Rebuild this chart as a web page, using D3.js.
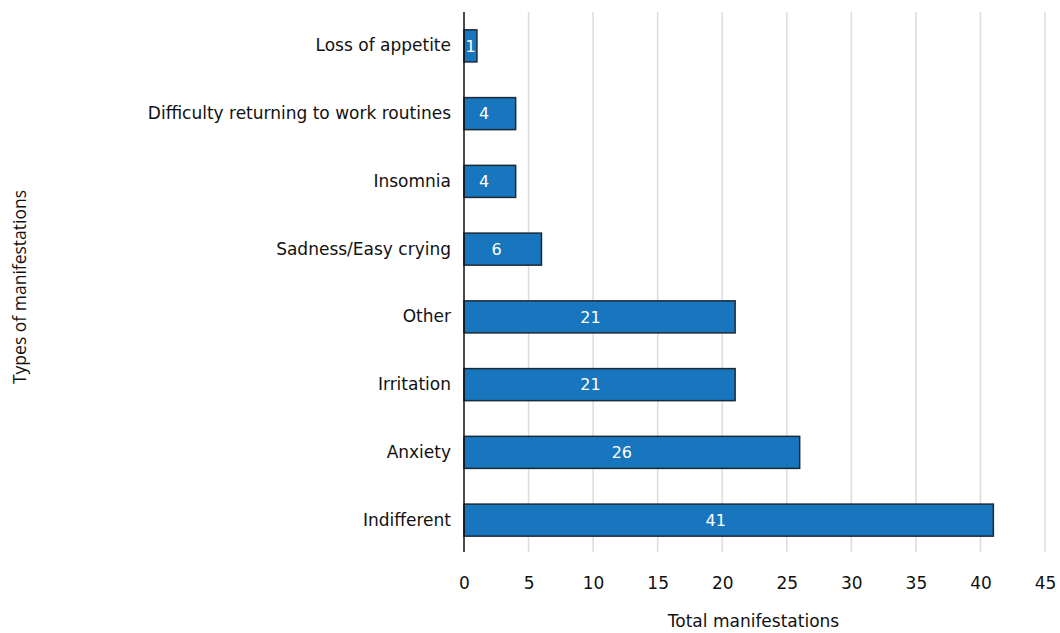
<!DOCTYPE html>
<html>
<head>
<meta charset="utf-8">
<script src="https://cdn.jsdelivr.net/npm/d3@7"></script>
<style>
  body { margin: 0; background: #fff; }
  svg text { font-family: "DejaVu Sans", Verdana, sans-serif; }
</style>
</head>
<body>
<svg id="chart" width="1060" height="633"></svg>
<script>
// data (top to bottom)
const categories = [
    "Loss of appetite",
    "Difficulty returning to work routines",
    "Insomnia",
    "Sadness/Easy crying",
    "Other",
    "Irritation",
    "Anxiety",
    "Indifferent"
];
const totals = [1, 4, 4, 6, 21, 21, 26, 41];
const xTicks = [0, 5, 10, 15, 20, 25, 30, 35, 40, 45];

const rows = categories.map((c, i) => ({ name: c, value: totals[i] }));

const svg = d3.select("#chart");
const plotLeft = 464, plotRight = 1045, plotTop = 12, plotBottom = 554;

const x = d3.scaleLinear().domain([0, 45]).range([plotLeft, plotRight]);
const y = d3.scaleBand()
    .domain(categories)
    .range([plotTop, plotBottom])
    .paddingInner(0.527)
    .paddingOuter(0.2635);

// vertical grid lines
svg.append("g")
    .selectAll("line")
    .data(xTicks.filter(t => t > 0))
    .enter()
    .append("line")
    .attr("x1", d => x(d))
    .attr("x2", d => x(d))
    .attr("y1", plotTop)
    .attr("y2", plotBottom - 2)
    .style("stroke", "#dcdcdc")
    .style("stroke-width", 1.5);

// bars
svg.append("g")
    .selectAll("rect")
    .data(rows)
    .enter()
    .append("rect")
    .attr("x", x(0))
    .attr("y", d => y(d.name))
    .attr("width", d => x(d.value) - x(0))
    .attr("height", y.bandwidth())
    .style("fill", "#1776bd")
    .style("stroke", "#1c2a36")
    .style("stroke-width", 1.5);

// value labels inside bars (sit a little left of the bar centre, like the original)
svg.append("g")
    .selectAll("text")
    .data(rows)
    .enter()
    .append("text")
    .attr("x", d => Math.max(x(d.value * 0.485) - 5, x(0) + 6.5))
    .attr("y", d => y(d.name) + y.bandwidth() / 2)
    .attr("dy", "0.36em")
    .attr("text-anchor", "middle")
    .style("fill", "#fff")
    .style("font-size", "16px")
    .text(d => d.value);

// y axis line
svg.append("line")
    .attr("x1", x(0))
    .attr("x2", x(0))
    .attr("y1", plotTop)
    .attr("y2", plotBottom - 2)
    .style("stroke", "#111")
    .style("stroke-width", 1.5);

// category labels
const yAxis = d3.axisLeft(y).tickSize(0).tickPadding(13);
svg.append("g")
    .attr("transform", `translate(${x(0)},0)`)
    .call(yAxis)
    .call(g => g.select(".domain").remove())
    .selectAll("text")
    .style("font-family", "\"DejaVu Sans\", Verdana, sans-serif")
    .style("font-size", "17px")
    .style("fill", "#111");

// x tick labels
const xAxis = d3.axisBottom(x).tickValues(xTicks).tickSize(0).tickPadding(0);
svg.append("g")
    .attr("transform", `translate(0,577)`)
    .call(xAxis)
    .call(g => g.select(".domain").remove())
    .selectAll("text")
    .style("font-family", "\"DejaVu Sans\", Verdana, sans-serif")
    .style("font-size", "17px")
    .style("fill", "#111");

// axis titles
svg.append("text")
    .attr("x", (plotLeft + plotRight) / 2 - 1)
    .attr("y", 621)
    .attr("dy", "0.36em")
    .attr("text-anchor", "middle")
    .style("font-size", "17px")
    .style("fill", "#111")
    .text("Total manifestations");

svg.append("text")
    .attr("transform", "translate(20,287) rotate(-90)")
    .attr("dy", "0.36em")
    .attr("text-anchor", "middle")
    .style("font-family", "\"Open Sans\", sans-serif")
    .style("font-size", "17.5px")
    .style("fill", "#111")
    .text("Types of manifestations");
</script>
</body>
</html>
